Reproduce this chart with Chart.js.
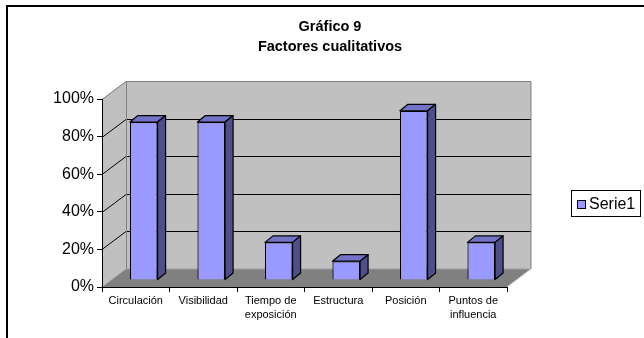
<!DOCTYPE html>
<html>
<head>
<meta charset="utf-8">
<script src="https://cdn.jsdelivr.net/npm/chart.js@4.4.1/dist/chart.umd.min.js"></script>
<style>
  html, body { margin: 0; padding: 0; background: #fff; }
  #wrap { width: 644px; height: 338px; }
</style>
</head>
<body>
<div id="wrap"><canvas id="c" width="644" height="338"></canvas></div>
<script>
// ---- data ----
const titleLines = ['Gráfico 9', 'Factores cualitativos'];
const categories = ['Circulación', 'Visibilidad', 'Tiempo de exposición', 'Estructura', 'Posición', 'Puntos de influencia'];
const seriesName = 'Serie1';
const seriesValues = [84, 84, 20, 10, 90, 20];
const yTicks = [0, 20, 40, 60, 80, 100];

// ---- 3D look ----
const BACK = { dx: 24, dy: -18 };     // front plane -> back wall
const BAR_SHIFT = { dx: 8, dy: -7 };  // front plane -> bar front faces
const BAR_DEPTH = { dx: 8, dy: -6.5 };
const FONT = '"Liberation Sans", Arial, sans-serif';

function poly(ctx, pts, fill, stroke, lw) {
  ctx.beginPath();
  ctx.moveTo(pts[0][0], pts[0][1]);
  for (let i = 1; i < pts.length; i++) ctx.lineTo(pts[i][0], pts[i][1]);
  ctx.closePath();
  if (fill) { ctx.fillStyle = fill; ctx.fill(); }
  if (stroke) { ctx.strokeStyle = stroke; ctx.lineWidth = lw || 1; ctx.stroke(); }
}

const excel3d = {
  id: 'excel3d',
  beforeDraw(chart) {
    const ctx = chart.ctx;
    ctx.save();
    ctx.fillStyle = '#fff';
    ctx.fillRect(0, 0, chart.width, chart.height);
    // outer frame (clipped at right/bottom)
    ctx.strokeStyle = '#000';
    ctx.lineWidth = 2;
    ctx.beginPath();
    ctx.moveTo(7, 338); ctx.lineTo(7, 6); ctx.lineTo(644, 6);
    ctx.stroke();
    // title
    ctx.fillStyle = '#000';
    ctx.font = 'bold 14.5px ' + FONT;
    ctx.textAlign = 'center';
    ctx.textBaseline = 'middle';
    ctx.fillText(titleLines[0], 330, 27);
    ctx.fillText(titleLines[1], 330, 46.5);

    const xs = chart.scales.x, ys = chart.scales.y;
    const L = xs.left, R = xs.right;
    const y0 = ys.getPixelForValue(0), yT = ys.getPixelForValue(100);
    const bx = BACK.dx, by = BACK.dy;
    // back wall
    poly(ctx, [[L + bx, yT + by], [R + bx, yT + by], [R + bx, y0 + by], [L + bx, y0 + by]], '#C0C0C0');
    // left wall
    poly(ctx, [[L, yT], [L + bx, yT + by], [L + bx, y0 + by], [L, y0]], '#C0C0C0');
    // floor
    poly(ctx, [[L, y0], [L + bx, y0 + by], [R + bx, y0 + by], [R, y0]], '#808080');
    // gridlines
    ctx.lineWidth = 1;
    yTicks.forEach(v => {
      if (v === 0 || v === 100) return;
      const yy = Math.round(ys.getPixelForValue(v)) + 0.5;
      ctx.strokeStyle = '#000';
      ctx.beginPath();
      ctx.moveTo(L, yy); ctx.lineTo(L + bx, yy + by);
      ctx.lineTo(R + bx, yy + by);
      ctx.stroke();
    });
    // wall borders
    ctx.strokeStyle = '#808080';
    ctx.beginPath();
    const t = Math.round(yT) + 0.5;
    ctx.moveTo(L, t); ctx.lineTo(L + bx, t + by); ctx.lineTo(R + bx, t + by); ctx.lineTo(R + bx, y0 + by);
    ctx.moveTo(Math.round(L + bx) + 0.5, t + by); ctx.lineTo(Math.round(L + bx) + 0.5, y0 + by);
    ctx.stroke();
    ctx.strokeStyle = '#A0A0A0';
    ctx.beginPath();
    ctx.moveTo(L, y0); ctx.lineTo(L + bx, y0 + by); ctx.lineTo(R + bx, y0 + by);
    ctx.stroke();
    ctx.strokeStyle = '#D0D0D0';
    ctx.beginPath();
    ctx.moveTo(R, y0); ctx.lineTo(R + bx, y0 + by);
    ctx.stroke();
    ctx.restore();
  },
  beforeDatasetsDraw(chart) {
    chart.ctx.save();
    chart.ctx.translate(BAR_SHIFT.dx, BAR_SHIFT.dy);
  },
  afterDatasetsDraw(chart) {
    const ctx = chart.ctx;
    const meta = chart.getDatasetMeta(0);
    meta.data.forEach(bar => {
      const p = bar.getProps(['x', 'y', 'base', 'width'], true);
      const l = p.x - p.width / 2, r = p.x + p.width / 2, top = p.y, bot = p.base;
      const dx = BAR_DEPTH.dx, dy = BAR_DEPTH.dy;
      ctx.lineJoin = 'round';
      poly(ctx, [[l, top], [l + dx, top + dy], [r + dx, top + dy], [r, top]], '#7272C6', '#000', 1.2);
      poly(ctx, [[r, top], [r + dx, top + dy], [r + dx, bot + dy], [r, bot]], '#4E4E8A', '#000', 1.2);
    });
    ctx.restore();
  },
  afterDraw(chart) {
    const ctx = chart.ctx;
    ctx.save();
    // legend box
    ctx.strokeStyle = '#000';
    ctx.lineWidth = 1;
    ctx.strokeRect(571.5, 190.5, 69, 26);
    ctx.fillStyle = chart.data.datasets[0].backgroundColor;
    ctx.fillRect(577.5, 200.5, 8, 8);
    ctx.strokeRect(577.5, 200.5, 8, 8);
    ctx.fillStyle = '#000';
    ctx.font = '16px ' + FONT;
    ctx.textAlign = 'left';
    ctx.textBaseline = 'middle';
    ctx.fillText(chart.data.datasets[0].label, 589, 205);
    ctx.restore();
  }
};

function wrapLabel(s) {
  if (s.length <= 12) return s;
  const i = s.lastIndexOf(' ');
  return [s.slice(0, i), s.slice(i + 1)];
}

new Chart(document.getElementById('c'), {
  type: 'bar',
  data: {
    labels: categories,
    datasets: [{
      label: seriesName,
      data: seriesValues,
      backgroundColor: '#9999FF',
      borderColor: '#000',
      borderWidth: 1.2,
      barPercentage: 0.41,
      categoryPercentage: 1,
      clip: false
    }]
  },
  options: {
    responsive: false,
    devicePixelRatio: 1,
    animation: false,
    layout: { padding: { left: 0, top: 99, right: 137, bottom: 0 } },
    plugins: {
      legend: { display: false },
      title: { display: false },
      tooltip: { enabled: false }
    },
    scales: {
      x: {
        type: 'category',
        offset: true,
        afterFit: s => { s.height = 51; },
        grid: { offset: true, drawOnChartArea: false, drawTicks: true, tickLength: 5, color: '#000' },
        border: { display: true, color: '#000', width: 1 },
        ticks: {
          autoSkip: false, maxRotation: 0, minRotation: 0, padding: 2,
          color: '#000',
          font: { family: FONT, size: 11, lineHeight: 1.27 },
          callback: function (v) { return wrapLabel(this.getLabelForValue(v)); }
        }
      },
      y: {
        min: 0, max: 100,
        afterFit: s => { s.width = 102; },
        afterBuildTicks: s => { s.ticks = yTicks.map(v => ({ value: v })); },
        grid: { drawOnChartArea: false, drawTicks: true, tickLength: 5, color: '#000' },
        border: { display: true, color: '#000', width: 1 },
        ticks: {
          padding: 3, color: '#000',
          font: { family: FONT, size: 16 },
          callback: v => v + '%'
        }
      }
    }
  },
  plugins: [excel3d]
});
</script>
</body>
</html>
